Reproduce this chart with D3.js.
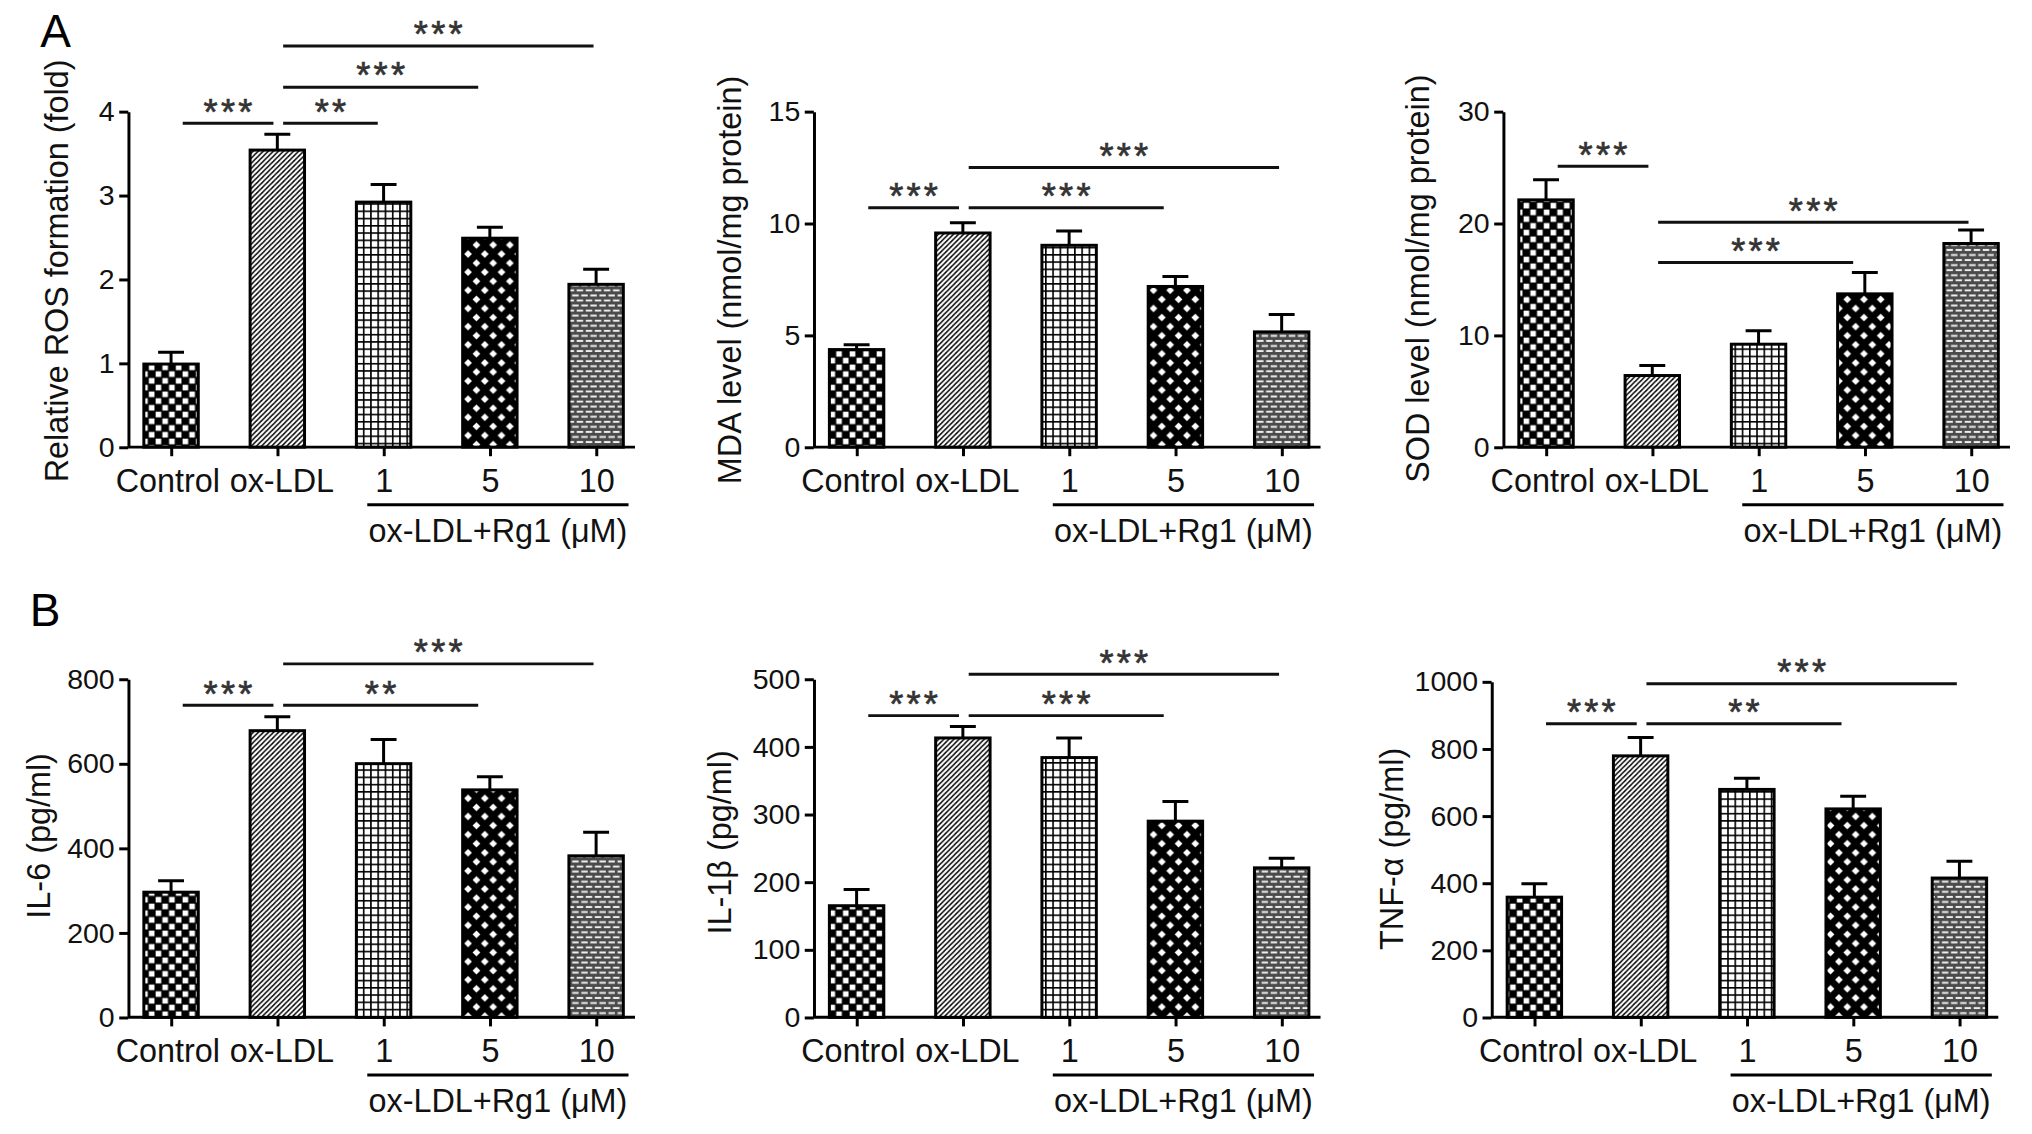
<html>
<head>
<title>Rg1: oxidative stress and inflammatory markers</title>
<script src="https://d3js.org/d3.v7.min.js"></script>
<style>
body { margin: 0; background: #fff; }
</style>
</head>
<body>
<svg id="figure" width="2032" height="1134" viewBox="0 0 1568 875"></svg>
<script>
// ---- data ----
const categories = ["Control", "ox-LDL", "1", "5", "10"];
const groupLabel = "ox-LDL+Rg1 (\u03bcM)";

const rosMean = [0.99, 3.54, 2.92, 2.49, 1.94];
const rosErr  = [0.14, 0.19, 0.21, 0.13, 0.18];
const mdaMean = [4.36, 9.57, 9.02, 7.18, 5.15];
const mdaErr  = [0.22, 0.46, 0.64, 0.45, 0.78];
const sodMean = [22.1, 6.4, 9.2, 13.7, 18.2];
const sodErr  = [1.8, 0.9, 1.2, 1.9, 1.2];
const il6Mean = [296, 678, 600, 538, 382];
const il6Err  = [27, 33, 57, 31, 56];
const il1bMean = [165, 413, 384, 290, 221];
const il1bErr  = [24, 17, 29, 29, 14];
const tnfMean = [358, 779, 679, 621, 415];
const tnfErr  = [40, 55, 33, 38, 50];

// significance brackets: [from, to, height (data units), stars]
const rosSig  = [[0, 1, 3.86, "***"], [1, 2, 3.86, "**"], [1, 3, 4.29, "***"], [1, 4, 4.78, "***"]];
const mdaSig  = [[0, 1, 10.7, "***"], [1, 3, 10.7, "***"], [1, 4, 12.5, "***"]];
const sodSig  = [[0, 1, 25.1, "***"], [1, 3, 16.5, "***"], [1, 4, 20.1, "***"]];
const il6Sig  = [[0, 1, 738, "***"], [1, 3, 738, "**"], [1, 4, 836, "***"]];
const il1bSig = [[0, 1, 446, "***"], [1, 3, 446, "***"], [1, 4, 507, "***"]];
const tnfSig  = [[0, 1, 875, "***"], [1, 3, 875, "**"], [1, 4, 994, "***"]];

const yLabels = ["Relative ROS formation (fold)", "MDA level (nmol/mg protein)", "SOD level (nmol/mg protein)",
                 "IL-6 (pg/ml)", "IL-1\u03b2 (pg/ml)", "TNF-\u03b1 (pg/ml)"];
const yMaxes = [4, 15, 30, 800, 500, 1000];
const ySteps = [1, 5, 10, 200, 100, 200];

// ---- layout ----
const font = "'Liberation Sans', Arial, Helvetica, sans-serif";
const lw = 2.3;
const barW = 42;

const panels = [
    {mean: rosMean,  err: rosErr,  sig: rosSig,  axisX: 99,   y0: 345, yTop: 86,  labelX: 44,   labelY: 209},
    {mean: mdaMean,  err: mdaErr,  sig: mdaSig,  axisX: 628,  y0: 345, yTop: 86,  labelX: 563,  labelY: 216},
    {mean: sodMean,  err: sodErr,  sig: sodSig,  axisX: 1160, y0: 345, yTop: 86,  labelX: 1094, labelY: 215},
    {mean: il6Mean,  err: il6Err,  sig: il6Sig,  axisX: 99,   y0: 785, yTop: 524, labelX: 30,   labelY: 645},
    {mean: il1bMean, err: il1bErr, sig: il1bSig, axisX: 628,  y0: 785, yTop: 524, labelX: 555,  labelY: 650},
    {mean: tnfMean,  err: tnfErr,  sig: tnfSig,  axisX: 1151, y0: 785, yTop: 526, labelX: 1074, labelY: 655}
];

const svg = d3.select("#figure");
svg.append("rect").attr("width", 1568).attr("height", 875).attr("fill", "#fff");

// ---- fill patterns ----
const defs = svg.append("defs");
const patternIds = ["checker", "diag", "grid", "diamond", "brick"];

function makePattern(id, w, h) {
    return defs.append("pattern")
        .attr("id", id)
        .attr("patternUnits", "userSpaceOnUse")
        .attr("width", w)
        .attr("height", h);
}

// checkerboard
let p = makePattern("checker", 10.4, 10.4);
p.append("rect").attr("width", 10.4).attr("height", 10.4).attr("fill", "#000");
p.append("rect").attr("x", 0.5).attr("y", 0.5).attr("width", 4.3).attr("height", 4.3).attr("fill", "#fff");
p.append("rect").attr("x", 5.7).attr("y", 5.7).attr("width", 4.3).attr("height", 4.3).attr("fill", "#fff");

// diagonal hatch
p = makePattern("diag", 3.9, 3.9);
p.append("rect").attr("width", 3.9).attr("height", 3.9).attr("fill", "#fff");
p.append("path").attr("d", "M0,3.9 L3.9,0 M-1,1 L1,-1 M2.9,4.9 L4.9,2.9")
    .attr("stroke", "#000").attr("stroke-width", 1.1);

// square grid
p = makePattern("grid", 5.6, 5.6);
p.append("rect").attr("width", 5.6).attr("height", 5.6).attr("fill", "#fff");
p.append("path").attr("d", "M0,0.6 H5.6 M0.6,0 V5.6")
    .attr("stroke", "#000").attr("stroke-width", 1.3);

// black with white diamonds
const dw = 12.9, dh = 14;
p = makePattern("diamond", dw, dh);
p.append("rect").attr("width", dw).attr("height", dh).attr("fill", "#000");
const diamond = (cx, cy, r) => `M${cx},${cy - r} L${cx + r},${cy} L${cx},${cy + r} L${cx - r},${cy} Z`;
p.append("path")
    .attr("d", [[0, 0], [dw, 0], [0, dh], [dw, dh], [dw / 2, dh / 2]].map(c => diamond(c[0], c[1], 3)).join(" "))
    .attr("fill", "#fff");

// brick
p = makePattern("brick", 7, 7.8);
p.append("rect").attr("width", 7).attr("height", 7.8).attr("fill", "#4a4a4a");
[[0.5, 1], [4, 4.9], [-3, 4.9]].forEach(c => {
    p.append("rect").attr("x", c[0]).attr("y", c[1]).attr("width", 5).attr("height", 1.5).attr("fill", "#eee");
});

// ---- panels ----
function drawPanel(cfg, i) {
    const g = svg.append("g");

    const x = d3.scalePoint()
        .domain(categories)
        .range([cfg.axisX + 33, cfg.axisX + 361]);

    const y = d3.scaleLinear()
        .domain([0, yMaxes[i]])
        .range([cfg.y0, cfg.yTop]);

    // y axis
    const yAxis = d3.axisLeft(y)
        .tickValues(d3.range(0, yMaxes[i] + ySteps[i] / 2, ySteps[i]))
        .tickSize(7)
        .tickSizeOuter(0)
        .tickPadding(3.5)
        .tickFormat(d3.format("d"));

    const ya = g.append("g")
        .attr("transform", `translate(${cfg.axisX},0)`)
        .call(yAxis)
        .attr("font-size", 22)
        .attr("font-family", font);
    ya.selectAll("path, line").attr("stroke", "#000").attr("stroke-width", lw);
    ya.selectAll("text").attr("fill", "#111");

    // x axis: baseline + ticks + category labels
    const xAxis = d3.axisBottom(x).tickSize(7).tickPadding(10);
    const xa = g.append("g")
        .attr("transform", `translate(0,${cfg.y0})`)
        .call(xAxis)
        .attr("font-size", 25)
        .attr("font-family", font);
    xa.select(".domain").remove();
    xa.selectAll("line").attr("stroke", "#000").attr("stroke-width", lw);
    xa.selectAll("text")
        .attr("fill", "#111")
        .attr("dx", d => d === "Control" ? -3 : d === "ox-LDL" ? 3 : 0);

    g.append("line")
        .attr("x1", cfg.axisX).attr("x2", cfg.axisX + 391)
        .attr("y1", cfg.y0).attr("y2", cfg.y0)
        .attr("stroke", "#000").attr("stroke-width", lw);

    // bars
    g.selectAll("rect.bar")
        .data(categories)
        .join("rect")
        .attr("class", "bar")
        .attr("x", d => x(d) - barW / 2)
        .attr("width", barW)
        .attr("y", (d, k) => y(cfg.mean[k]))
        .attr("height", (d, k) => y(0) - y(cfg.mean[k]))
        .attr("fill", (d, k) => `url(#${patternIds[k]})`)
        .attr("stroke", "#000")
        .attr("stroke-width", lw);

    // error bars (upper only)
    g.selectAll("path.err")
        .data(categories)
        .join("path")
        .attr("class", "err")
        .attr("d", (d, k) => {
            const cx = x(d), top = y(cfg.mean[k] + cfg.err[k]), base = y(cfg.mean[k]);
            return `M${cx},${base} V${top} M${cx - 10},${top} H${cx + 10}`;
        })
        .attr("fill", "none")
        .attr("stroke", "#000")
        .attr("stroke-width", lw);

    // significance brackets
    cfg.sig.forEach(s => {
        const from = s[0], to = s[1];
        const x1 = x(categories[from]) + (from === 0 ? 9 : 4.5);
        const x2 = x(categories[to]) - (to === 1 ? 3 : to === 4 ? 2 : to === 3 ? 9 : 4.5);
        const ly = y(s[2]);
        g.append("line")
            .attr("x1", x1).attr("x2", x2)
            .attr("y1", ly).attr("y2", ly)
            .attr("stroke", "#111").attr("stroke-width", lw);
        g.append("text")
            .text(s[3])
            .attr("x", (x1 + x2) / 2 + 1.2)
            .attr("y", ly + 1)
            .attr("text-anchor", "middle")
            .attr("font-family", font)
            .attr("font-size", 28)
            .attr("letter-spacing", 2.5)
            .attr("fill", "#333")
            .attr("stroke", "#333")
            .attr("stroke-width", 0.5);
    });

    // group line and label under 1, 5, 10
    const gx1 = x("1") - 12.6, gx2 = x("10") + 25;
    g.append("line")
        .attr("x1", gx1).attr("x2", gx2)
        .attr("y1", cfg.y0 + 44.5).attr("y2", cfg.y0 + 44.5)
        .attr("stroke", "#000").attr("stroke-width", lw);
    g.append("text")
        .text(groupLabel)
        .attr("x", (gx1 + gx2) / 2)
        .attr("y", cfg.y0 + 73)
        .attr("text-anchor", "middle")
        .attr("font-family", font)
        .attr("font-size", 25)
        .attr("fill", "#111");

    // y label
    g.append("text")
        .text(yLabels[i])
        .attr("transform", `translate(${cfg.labelX},${cfg.labelY}) rotate(-90)`)
        .attr("dy", "0.35em")
        .attr("text-anchor", "middle")
        .attr("font-family", font)
        .attr("font-size", 25)
        .attr("fill", "#111");
}

panels.forEach(drawPanel);

// panel letters
svg.append("text").text("A")
    .attr("x", 31).attr("y", 36)
    .attr("font-family", font).attr("font-size", 35.5).attr("fill", "#000");
svg.append("text").text("B")
    .attr("x", 23).attr("y", 483)
    .attr("font-family", font).attr("font-size", 35.5).attr("fill", "#000");
</script>
</body>
</html>
